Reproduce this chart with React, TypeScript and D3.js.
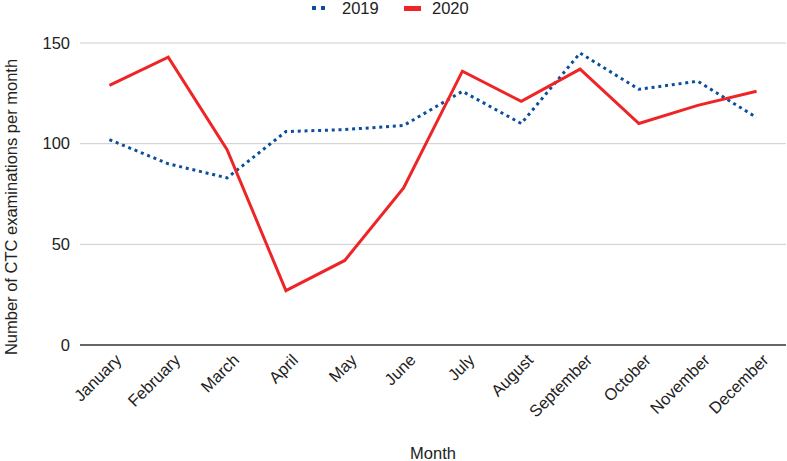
import React from "react";
import * as d3 from "d3";

const months = ["January","February","March","April","May","June","July","August","September","October","November","December"];
const series2019 = [102, 90, 83, 106, 107, 109, 126, 110, 145, 127, 131, 113];
const series2020 = [129, 143, 97, 27, 42, 78, 136, 121, 137, 110, 119, 126];
const yTicks = [0, 50, 100, 150];

const W = 787, H = 461;
const left = 80, right = 786, top = 43, bottom = 345;

export default function App() {
  const x = d3.scaleBand<string>().domain(months).range([left, right]);
  const y = d3.scaleLinear().domain([0, 150]).range([bottom, top]);
  const cx = (m: string) => (x(m) as number) + x.bandwidth() / 2;
  const line = d3.line<number>().x((_, i) => cx(months[i])).y((d) => y(d));
  const font = "'Liberation Sans', Arial, sans-serif";
  const fs = 16.5;
  return (
    <svg width={W} height={H} style={{ position: "absolute", left: 0, top: 0, fontFamily: font }}>
      <rect width={W} height={H} fill="#fff" />
      {yTicks.map((t) => (
        <g key={t}>
          <line x1={left} x2={right} y1={y(t)} y2={y(t)} stroke={t === 0 ? "#333" : "#ccc"} strokeWidth={t === 0 ? 1.3 : 1} />
          <text x={left - 10} y={y(t)} dy="0.35em" textAnchor="end" fontSize={fs} fill="#222">{t}</text>
        </g>
      ))}
      <path d={line(series2019) || ""} fill="none" stroke="#0b4f9c" strokeWidth={3} strokeDasharray="3 3.8" />
      <path d={line(series2020) || ""} fill="none" stroke="#ee2427" strokeWidth={3} strokeLinejoin="miter" />
      {months.map((m) => (
        <text key={m} transform={`translate(${cx(m) + 9},${bottom + 12}) rotate(-45)`} textAnchor="end" dy="0.35em" fontSize={fs} fill="#222">{m}</text>
      ))}
      <text x={433} y={459} textAnchor="middle" fontSize={fs} fill="#222">Month</text>
      <text transform={`translate(11,207) rotate(-90)`} textAnchor="middle" dy="0.35em" fontSize={fs} fill="#222">Number of CTC examinations per month</text>
      <line x1={312} x2={330} y1={8} y2={8} stroke="#0b4f9c" strokeWidth={4} strokeDasharray="4 5" />
      <text x={342} y={8} dy="0.35em" fontSize={fs} fill="#222">2019</text>
      <rect x={404} y={6} width={17} height={5} fill="#ee2427" />
      <text x={432} y={8} dy="0.35em" fontSize={fs} fill="#222">2020</text>
    </svg>
  );
}
